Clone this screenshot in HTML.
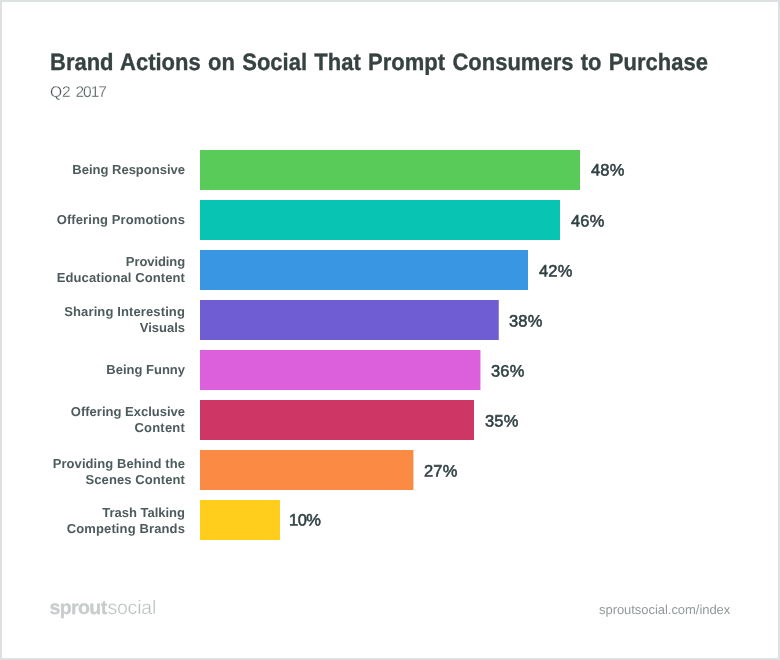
<!DOCTYPE html>
<html lang="en">
<head>
<meta charset="utf-8">
<title>Brand Actions on Social That Prompt Consumers to Purchase</title>
<style>
html,body{margin:0;padding:0;background:#fff;}
body{width:780px;height:660px;position:relative;overflow:hidden;font-family:"Liberation Sans",sans-serif;text-rendering:geometricPrecision;}
.frame{position:absolute;left:0;top:0;width:776px;height:656px;border:2px solid #dee1e1;background:#fff;}
.t{position:absolute;white-space:nowrap;line-height:1;transform-origin:0 0;}
.title{left:50.3px;top:51px;font-size:22px;font-weight:bold;color:#364141;-webkit-text-stroke:0.3px #364141;word-spacing:1.2px;letter-spacing:0;transform:rotate(0.0001deg) scaleY(1.075);}
.sub{left:50px;top:84.7px;font-size:15.5px;color:#465355;-webkit-text-stroke:0.3px #fff;letter-spacing:0;word-spacing:0.5px;}
.sub span{letter-spacing:-1px;}
.bars{position:absolute;left:0;top:0;}
.lab{position:absolute;right:595px;width:170px;text-align:right;font-size:13px;font-weight:bold;color:#4d5b5d;line-height:16px;transform-origin:100% 50%;}
.val{position:absolute;letter-spacing:.2px;font-size:16.5px;font-weight:normal;-webkit-text-stroke:0.55px #2f3f42;color:#2f3f42;line-height:1;white-space:nowrap;transform:translateY(var(--dy,0px)) rotate(0.05deg);}
.logo{left:49.5px;top:598.9px;font-size:19.5px;color:#c8cccc;letter-spacing:-0.6px;}
.logo b{font-weight:bold;-webkit-text-stroke:0.3px #c8cccc;}
.logo i{font-style:normal;letter-spacing:-0.22px;margin-left:0.9px;color:#bcc1c2;-webkit-text-stroke:0.3px #fff;}
.url{left:599px;top:602.7px;font-size:13px;color:#929a9b;letter-spacing:-0.045px;}
</style>
</head>
<body>
<div class="frame"></div>
<div class="t title" id="title">Brand Actions on Social That Prompt Consumers to Purchase</div>
<div class="t sub" id="sub">Q2 <span>2017</span></div>

<svg class="bars" width="780" height="660" viewBox="0 0 780 660">
<rect x="200" y="150" width="380" height="40" fill="#59cb59"/>
<rect x="200" y="200" width="360" height="40" fill="#08c4b2"/>
<rect x="200" y="250" width="328" height="40" fill="#3896e3"/>
<rect x="200" y="300" width="298.75" height="40" fill="#6f5ed3"/>
<rect x="200" y="350" width="280.45" height="40" fill="#dc5fdc"/>
<rect x="200" y="400" width="274" height="40" fill="#ce3665"/>
<rect x="200" y="450" width="213.4" height="40" fill="#fb8a45"/>
<rect x="200" y="500" width="80" height="40" fill="#ffcd1c"/>
</svg>

<div class="lab" style="top:162px">Being Responsive</div>
<div class="lab" style="top:212px"><span style="letter-spacing:.1px">Offering Promotions</span></div>
<div class="lab" style="top:254px"><span style="letter-spacing:-.09px">Providing</span><br><span style="letter-spacing:.1px">Educational Content</span></div>
<div class="lab" style="top:304px"><span style="letter-spacing:.12px">Sharing Interesting</span><br>Visuals</div>
<div class="lab" style="top:362px">Being Funny</div>
<div class="lab" style="top:404px">Offering Exclusive<br><span style="letter-spacing:.2px">Content</span></div>
<div class="lab" style="top:456px"><span style="letter-spacing:.08px">Providing Behind the</span><br><span style="letter-spacing:.09px">Scenes Content</span></div>
<div class="lab" style="top:505px">Trash Talking<br><span style="letter-spacing:.125px">Competing Brands</span></div>

<div class="val" style="left:590.7px;top:162px;--dy:0.5px">48%</div>
<div class="val" style="left:570.7px;top:213px;--dy:0.5px">46%</div>
<div class="val" style="left:538.7px;top:263px;--dy:0.5px">42%</div>
<div class="val" style="left:508.7px;top:313px;--dy:0.5px">38%</div>
<div class="val" style="left:490.7px;top:363px;--dy:0.5px">36%</div>
<div class="val" style="left:484.7px;top:413px;--dy:0.5px">35%</div>
<div class="val" style="left:423.7px;top:463px;--dy:0.5px">27%</div>
<div class="val" style="left:288.9px;top:512px;--dy:0.5px;letter-spacing:-.5px">10%</div>

<div class="t logo" id="logo"><b>sprout</b><i>social</i></div>
<div class="t url" id="url">sproutsocial.com/index</div>
</body>
</html>
